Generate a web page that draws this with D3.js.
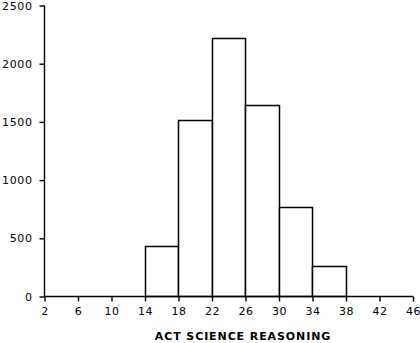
<!DOCTYPE html>
<html>
<head>
<meta charset="utf-8">
<script src="https://cdn.jsdelivr.net/npm/d3@7"></script>
<style>
  body { margin: 0; background: #fff; }
  svg { display: block; }
  text { font-family: "DejaVu Sans", sans-serif; fill: #000; }
</style>
</head>
<body>
<svg id="chart" width="420" height="343"></svg>
<script>
// histogram bins (lower edge, upper edge) and counts
var binStarts = [14, 18, 22, 26, 30, 34];
var binEnds = [18, 22, 26, 30, 34, 38];
var counts = [432, 1515, 2215, 1645, 767, 260];
var xTicks = [2, 6, 10, 14, 18, 22, 26, 30, 34, 38, 42, 46];
var yTicks = [0, 500, 1000, 1500, 2000, 2500];
var xLabel = "ACT SCIENCE REASONING";

var svg = d3.select("#chart");

var x = d3.scaleLinear().domain([2, 46]).range([44, 412.5]);
var y = d3.scaleLinear().domain([0, 2500]).range([296, 5]);

var bins = binStarts.map((s, i) => ({x0: s, x1: binEnds[i], n: counts[i]}));

svg.append("g")
  .selectAll("rect")
  .data(bins)
  .enter()
  .append("rect")
  .attr("x", d => Math.round(x(d.x0)) + 0.5)
  .attr("y", d => Math.round(y(d.n)) + 0.5)
  .attr("width", d => Math.round(x(d.x1)) - Math.round(x(d.x0)))
  .attr("height", d => Math.round(y(0)) - Math.round(y(d.n)))
  .attr("fill", "#fff")
  .attr("stroke", "#000")
  .attr("stroke-width", 1.5);

// y axis
var yAxis = svg.append("g")
  .attr("transform", "translate(44.5,0.5)")
  .call(d3.axisLeft(y).tickValues(yTicks).tickSize(5).tickPadding(7).tickFormat(d3.format("d")));

// x axis
var xAxis = svg.append("g")
  .attr("transform", "translate(0.5,296.5)")
  .call(d3.axisBottom(x).tickValues(xTicks).tickSize(5).tickPadding(6).tickFormat(d3.format("d")));

[yAxis, xAxis].forEach(a => {
  a.select(".domain").attr("stroke", "#000").attr("stroke-width", 1.4);
  a.selectAll(".tick line").attr("stroke", "#000").attr("stroke-width", 1.4);
  a.selectAll(".tick text")
    .style("font-family", "'DejaVu Sans', sans-serif")
    .style("font-size", "11px")
    .style("letter-spacing", "0.6px")
    .attr("fill", "#000");
});
xAxis.select(".domain").attr("d", "M" + x(2) + ",0H" + x(46));
yAxis.select(".domain").attr("d", "M0," + y(0) + "V" + y(2500));

svg.append("text")
  .attr("x", 243)
  .attr("y", 340)
  .attr("text-anchor", "middle")
  .style("font-size", "11px")
  .style("font-weight", "bold")
  .style("letter-spacing", "0.9px")
  .text(xLabel);
</script>
</body>
</html>
